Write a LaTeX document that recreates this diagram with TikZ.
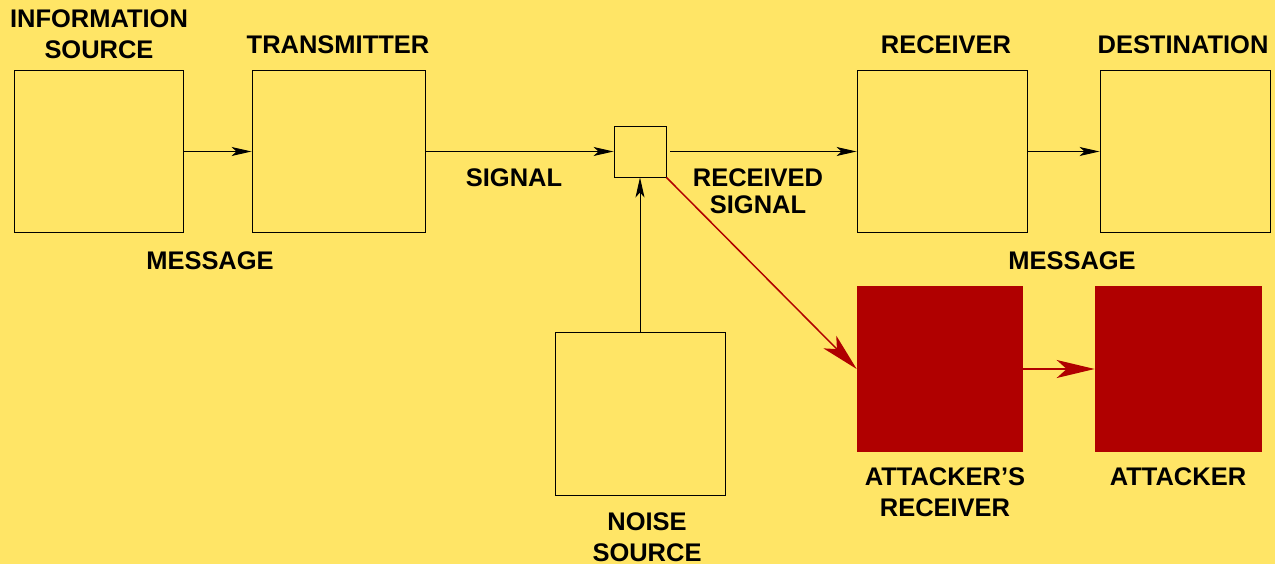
\documentclass[tikz,border=0pt]{standalone}
\usepackage{fontspec}
\setmainfont{Liberation Sans}
\usetikzlibrary{arrows.meta}
\definecolor{bgyellow}{RGB}{255,229,102}
\definecolor{darkred}{RGB}{176,0,0}
\begin{document}
\begin{tikzpicture}[x=0.02cm,y=-0.02cm,
  box/.style={draw=black,line width=0.55pt,inner sep=0pt},
  attbox/.style={fill=darkred,draw=none,inner sep=0pt},
  lbl/.style={inner sep=0pt,align=center,font=\bfseries\fontsize{14.5}{17.6}\selectfont},
  flow/.style={line width=0.55pt,-{Stealth[length=0.4cm,width=0.18cm,inset=0.1cm]}},
  attflow/.style={darkred,line width=0.85pt,-{Stealth[length=0.76cm,width=0.36cm,inset=0.2cm]}}]
  % canvas
  \fill[bgyellow] (0,0) rectangle (1275,564);
  \useasboundingbox (0,0) rectangle (1275,564);

  % blocks of the communication system
  \node[box,minimum width=3.38cm,minimum height=3.26cm] (info) at (98.5,151.5) {};
  \node[box,minimum width=3.46cm,minimum height=3.26cm] (trans) at (338.5,151.5) {};
  \node[box,minimum width=1.04cm,minimum height=1.02cm] (chan) at (640,151.5) {};
  \node[box,minimum width=3.40cm,minimum height=3.26cm] (recv) at (942,151.5) {};
  \node[box,minimum width=3.40cm,minimum height=3.26cm] (dest) at (1185,151.5) {};
  \node[box,minimum width=3.40cm,minimum height=3.26cm] (noise) at (640,413.5) {};

  % eavesdropping branch
  \node[attbox,minimum width=3.32cm,minimum height=3.32cm] (arecv) at (940,369) {};
  \node[attbox,minimum width=3.34cm,minimum height=3.32cm] (att) at (1178.5,369) {};

  % connectors
  \draw[flow] (info) -- (trans);
  \draw[flow] (trans) -- (chan);
  \draw[flow,shorten <=4*0.02cm] (chan) -- (recv);
  \draw[flow] (recv) -- (dest);
  \draw[flow] (noise) -- (chan);
  \draw[attflow] (chan.south east) -- (arecv.west);
  \draw[attflow] (arecv) -- (att);

  % labels
  \node[lbl] (tinfo) at (99,34) {INFORMATION\\SOURCE};
  \node[lbl] (ttrans) at (338,45) {TRANSMITTER};
  \node[lbl] (tmsg1) at (210,261) {MESSAGE};
  \node[lbl] (tsig) at (514,178) {SIGNAL};
  \node[lbl,font=\bfseries\fontsize{14.5}{15.4}\selectfont] (trsig) at (758,191.5) {RECEIVED\\SIGNAL};
  \node[lbl] (trecv) at (946,45) {RECEIVER};
  \node[lbl] (tdest) at (1183,45) {DESTINATION};
  \node[lbl] (tmsg2) at (1072,261) {MESSAGE};
  \node[lbl] (tnoise) at (647,537) {NOISE\\SOURCE};
  \node[lbl] (tarecv) at (945,492.5) {ATTACKER'S\\RECEIVER};
  \node[lbl] (tatt) at (1178,477) {ATTACKER};
\end{tikzpicture}
\end{document}
